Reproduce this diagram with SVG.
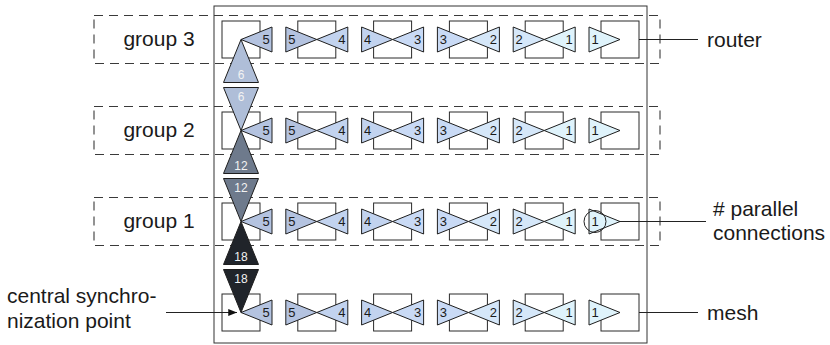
<svg xmlns="http://www.w3.org/2000/svg" width="830" height="345" viewBox="0 0 830 345">
<style>
text{font-family:"Liberation Sans",Arial,sans-serif;fill:#1a1a1a}
.lbl{font-size:21px}
.grp{font-size:21px;text-anchor:middle}
.n{font-size:13px;text-anchor:middle}
.vn{font-size:12px;text-anchor:middle;fill:#f2f2f2}
.box{fill:#fff;stroke:#2a2a2a;stroke-width:1}
.dash{fill:none;stroke:#3a3a3a;stroke-width:1.1;stroke-dasharray:9 6}
.tri{stroke:#1e1e1e;stroke-width:1}
.c5{fill:#b4c3e0}.c4{fill:#c2d3ef}.c3{fill:#c9daf5}.c2{fill:#d5e7f9}.c1{fill:#dff3fb}
.v6{fill:#afbed8}.v12{fill:#6e7a8c}.v18{fill:#20242a}
.ln{stroke:#222;stroke-width:1;fill:none}
</style>
<defs>
<marker id="ah" viewBox="0 0 10 8" refX="10" refY="4" markerWidth="9" markerHeight="7" markerUnits="userSpaceOnUse" orient="auto"><path d="M0,0 L10,4 L0,8 z" fill="#111"/></marker>
<polygon id="tl" points="0,0 31,-12.5 31,12.5"/>
<polygon id="tr" points="0,0 -31,-12.5 -31,12.5"/>
</defs>

<rect x="214" y="6" width="433" height="337" fill="none" stroke="#333" stroke-width="1"/>

<g id="groups">
<rect class="dash" x="94" y="15.5" width="566" height="48"/>
<rect class="dash" x="94" y="106.5" width="566" height="48"/>
<rect class="dash" x="94" y="197.5" width="566" height="48"/>
<text class="grp" x="159" y="46">group 3</text>
<text class="grp" x="159" y="137">group 2</text>
<text class="grp" x="159" y="228">group 1</text>
</g>

<!-- row group 3 -->
<g id="row3">
<g id="g3-r0"><rect class="box" x="222" y="21" width="38" height="37"/><use href="#tl" x="241" y="39.5" class="tri c5"/><text class="n" x="266" y="44">5</text></g>
<g id="g3-r1"><rect class="box" x="297.8" y="21" width="38" height="37"/><use href="#tr" x="316.8" y="39.5" class="tri c5"/><text class="n" x="291.8" y="44">5</text><use href="#tl" x="316.8" y="39.5" class="tri c4"/><text class="n" x="341.8" y="44">4</text></g>
<g id="g3-r2"><rect class="box" x="373.6" y="21" width="38" height="37"/><use href="#tr" x="392.6" y="39.5" class="tri c4"/><text class="n" x="367.6" y="44">4</text><use href="#tl" x="392.6" y="39.5" class="tri c3"/><text class="n" x="417.6" y="44">3</text></g>
<g id="g3-r3"><rect class="box" x="449.4" y="21" width="38" height="37"/><use href="#tr" x="468.4" y="39.5" class="tri c3"/><text class="n" x="443.4" y="44">3</text><use href="#tl" x="468.4" y="39.5" class="tri c2"/><text class="n" x="493.4" y="44">2</text></g>
<g id="g3-r4"><rect class="box" x="525.2" y="21" width="38" height="37"/><use href="#tr" x="544.2" y="39.5" class="tri c2"/><text class="n" x="519.2" y="44">2</text><use href="#tl" x="544.2" y="39.5" class="tri c1"/><text class="n" x="569.2" y="44">1</text></g>
<g id="g3-r5"><rect class="box" x="601" y="21" width="38" height="37"/><use href="#tr" x="620" y="39.5" class="tri c1"/><text class="n" x="595" y="44">1</text></g>
</g>

<!-- row group 2 -->
<g id="row2">
<g id="g2-r0"><rect class="box" x="222" y="112" width="38" height="37"/><use href="#tl" x="241" y="130.5" class="tri c5"/><text class="n" x="266" y="135">5</text></g>
<g id="g2-r1"><rect class="box" x="297.8" y="112" width="38" height="37"/><use href="#tr" x="316.8" y="130.5" class="tri c5"/><text class="n" x="291.8" y="135">5</text><use href="#tl" x="316.8" y="130.5" class="tri c4"/><text class="n" x="341.8" y="135">4</text></g>
<g id="g2-r2"><rect class="box" x="373.6" y="112" width="38" height="37"/><use href="#tr" x="392.6" y="130.5" class="tri c4"/><text class="n" x="367.6" y="135">4</text><use href="#tl" x="392.6" y="130.5" class="tri c3"/><text class="n" x="417.6" y="135">3</text></g>
<g id="g2-r3"><rect class="box" x="449.4" y="112" width="38" height="37"/><use href="#tr" x="468.4" y="130.5" class="tri c3"/><text class="n" x="443.4" y="135">3</text><use href="#tl" x="468.4" y="130.5" class="tri c2"/><text class="n" x="493.4" y="135">2</text></g>
<g id="g2-r4"><rect class="box" x="525.2" y="112" width="38" height="37"/><use href="#tr" x="544.2" y="130.5" class="tri c2"/><text class="n" x="519.2" y="135">2</text><use href="#tl" x="544.2" y="130.5" class="tri c1"/><text class="n" x="569.2" y="135">1</text></g>
<g id="g2-r5"><rect class="box" x="601" y="112" width="38" height="37"/><use href="#tr" x="620" y="130.5" class="tri c1"/><text class="n" x="595" y="135">1</text></g>
</g>

<!-- row group 1 -->
<g id="row1">
<g id="g1-r0"><rect class="box" x="222" y="203" width="38" height="37"/><use href="#tl" x="241" y="221.5" class="tri c5"/><text class="n" x="266" y="226">5</text></g>
<g id="g1-r1"><rect class="box" x="297.8" y="203" width="38" height="37"/><use href="#tr" x="316.8" y="221.5" class="tri c5"/><text class="n" x="291.8" y="226">5</text><use href="#tl" x="316.8" y="221.5" class="tri c4"/><text class="n" x="341.8" y="226">4</text></g>
<g id="g1-r2"><rect class="box" x="373.6" y="203" width="38" height="37"/><use href="#tr" x="392.6" y="221.5" class="tri c4"/><text class="n" x="367.6" y="226">4</text><use href="#tl" x="392.6" y="221.5" class="tri c3"/><text class="n" x="417.6" y="226">3</text></g>
<g id="g1-r3"><rect class="box" x="449.4" y="203" width="38" height="37"/><use href="#tr" x="468.4" y="221.5" class="tri c3"/><text class="n" x="443.4" y="226">3</text><use href="#tl" x="468.4" y="221.5" class="tri c2"/><text class="n" x="493.4" y="226">2</text></g>
<g id="g1-r4"><rect class="box" x="525.2" y="203" width="38" height="37"/><use href="#tr" x="544.2" y="221.5" class="tri c2"/><text class="n" x="519.2" y="226">2</text><use href="#tl" x="544.2" y="221.5" class="tri c1"/><text class="n" x="569.2" y="226">1</text></g>
<g id="g1-r5"><rect class="box" x="601" y="203" width="38" height="37"/><use href="#tr" x="620" y="221.5" class="tri c1"/><text class="n" x="595" y="226">1</text><circle cx="595" cy="221.5" r="11" fill="none" stroke="#222" stroke-width="1"/></g>
</g>

<!-- mesh row -->
<g id="row0">
<g id="m-r0"><rect class="box" x="222" y="294" width="38" height="37"/><use href="#tl" x="241" y="312.5" class="tri c5"/><text class="n" x="266" y="317">5</text></g>
<g id="m-r1"><rect class="box" x="297.8" y="294" width="38" height="37"/><use href="#tr" x="316.8" y="312.5" class="tri c5"/><text class="n" x="291.8" y="317">5</text><use href="#tl" x="316.8" y="312.5" class="tri c4"/><text class="n" x="341.8" y="317">4</text></g>
<g id="m-r2"><rect class="box" x="373.6" y="294" width="38" height="37"/><use href="#tr" x="392.6" y="312.5" class="tri c4"/><text class="n" x="367.6" y="317">4</text><use href="#tl" x="392.6" y="312.5" class="tri c3"/><text class="n" x="417.6" y="317">3</text></g>
<g id="m-r3"><rect class="box" x="449.4" y="294" width="38" height="37"/><use href="#tr" x="468.4" y="312.5" class="tri c3"/><text class="n" x="443.4" y="317">3</text><use href="#tl" x="468.4" y="312.5" class="tri c2"/><text class="n" x="493.4" y="317">2</text></g>
<g id="m-r4"><rect class="box" x="525.2" y="294" width="38" height="37"/><use href="#tr" x="544.2" y="312.5" class="tri c2"/><text class="n" x="519.2" y="317">2</text><use href="#tl" x="544.2" y="312.5" class="tri c1"/><text class="n" x="569.2" y="317">1</text></g>
<g id="m-r5"><rect class="box" x="601" y="294" width="38" height="37"/><use href="#tr" x="620" y="312.5" class="tri c1"/><text class="n" x="595" y="317">1</text></g>
</g>

<!-- vertical synchronization links -->
<g id="vlinks">
<polygon class="tri v6" points="241,39.5 223.5,82.5 258.5,82.5"/>
<text class="vn" x="241" y="78.5">6</text>
<polygon class="tri v6" points="241,130.5 223.5,87.5 258.5,87.5"/>
<text class="vn" x="241" y="100.5">6</text>
<polygon class="tri v12" points="241,130.5 223.5,173.5 258.5,173.5"/>
<text class="vn" x="241" y="169.5">12</text>
<polygon class="tri v12" points="241,221.5 223.5,178.5 258.5,178.5"/>
<text class="vn" x="241" y="191.5">12</text>
<polygon class="tri v18" points="241,221.5 223.5,264.5 258.5,264.5"/>
<text class="vn" x="241" y="260.5">18</text>
<polygon class="tri v18" points="241,312.5 223.5,269.5 258.5,269.5"/>
<text class="vn" x="241" y="282.5">18</text>
</g>

<g id="connectors">
<line class="ln" x1="639" y1="39.5" x2="698" y2="39.5"/>
<line class="ln" x1="639" y1="312.5" x2="698" y2="312.5"/>
<line class="ln" x1="619" y1="221.5" x2="706" y2="221.5"/>
<line class="ln" x1="166" y1="312.5" x2="237" y2="312.5" marker-end="url(#ah)"/>
</g>

<g id="labels">
<text class="lbl" x="707" y="47">router</text>
<text class="lbl" x="707" y="320">mesh</text>
<text class="lbl" x="713" y="216"># parallel</text>
<text class="lbl" x="713" y="240">connections</text>
<text class="lbl" x="7" y="303">central synchro-</text>
<text class="lbl" x="7" y="328">nization point</text>
</g>
</svg>
